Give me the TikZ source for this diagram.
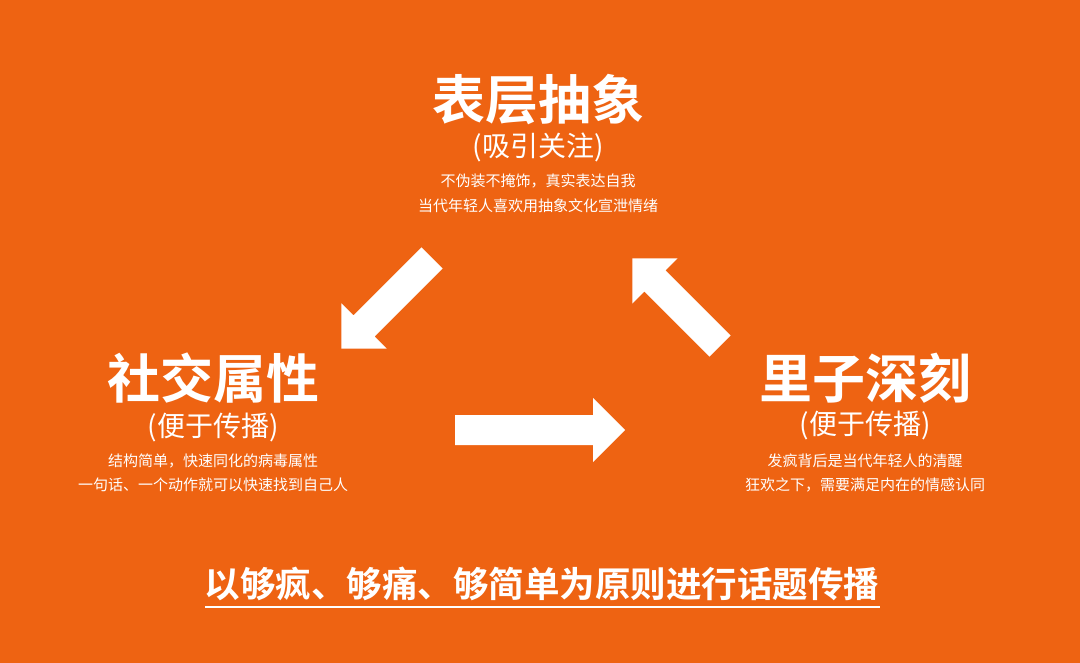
\documentclass[tikz,border=0pt]{standalone}
\usepackage{fontspec}
\setmainfont{Noto Sans CJK SC}[BoldFont={Noto Sans CJK SC Bold}]
\definecolor{bg}{HTML}{EE6312}
\begin{document}
\begin{tikzpicture}[x=1pt,y=-1pt,
  title/.style={text=white,font=\fontsize{53}{56}\selectfont\bfseries,inner sep=0},
  sub/.style={text=white,font=\fontsize{28}{32}\selectfont,inner sep=0},
  small/.style={text=white,font=\fontsize{15}{18}\selectfont,inner sep=0},
  barrow/.style={fill=white,draw=none}]
\fill[bg] (0,0) rectangle (1080,663);
\useasboundingbox (0,0) rectangle (1080,663);
\node[title] (t1) at (538,100) {表层抽象};
\node[sub] (s1) at (538,147) {(吸引关注)};
\node[small] (a1) at (538,181) {不伪装不掩饰，真实表达自我};
\node[small] (b1) at (538,206) {当代年轻人喜欢用抽象文化宣泄情绪};
\node[title] (t2) at (213,378) {社交属性};
\node[sub] (s2) at (213,427) {(便于传播)};
\node[small] (a2) at (213,461) {结构简单，快速同化的病毒属性};
\node[small] (b2) at (213,485) {一句话、一个动作就可以快速找到自己人};
\node[title] (t3) at (865,378) {里子深刻};
\node[sub] (s3) at (865,425) {(便于传播)};
\node[small] (a3) at (865,461) {发疯背后是当代年轻人的清醒};
\node[small] (b3) at (865,485) {狂欢之下，需要满足内在的情感认同};
\node[text=white,font=\fontsize{35.5}{38}\selectfont\bfseries,inner sep=0] (bt) at (542,584) {以够疯、够痛、够简单为原则进行话题传播};
\draw[white,line width=1.5pt] (205,607) -- (880,607);
\newcommand{\blockarrow}[4]{% x y angle length
  \begin{scope}[shift={(#1,#2)},rotate=#3]
  \fill[white] (0,-15) -- (#4-32,-15) -- (#4-32,-32) -- (#4,0) -- (#4-32,32) -- (#4-32,15) -- (0,15) -- cycle;
  \end{scope}}
\blockarrow{455}{430}{0}{170}
\blockarrow{432}{258}{225}{128}
\blockarrow{720}{346}{135}{124}
\end{tikzpicture}
\end{document}
